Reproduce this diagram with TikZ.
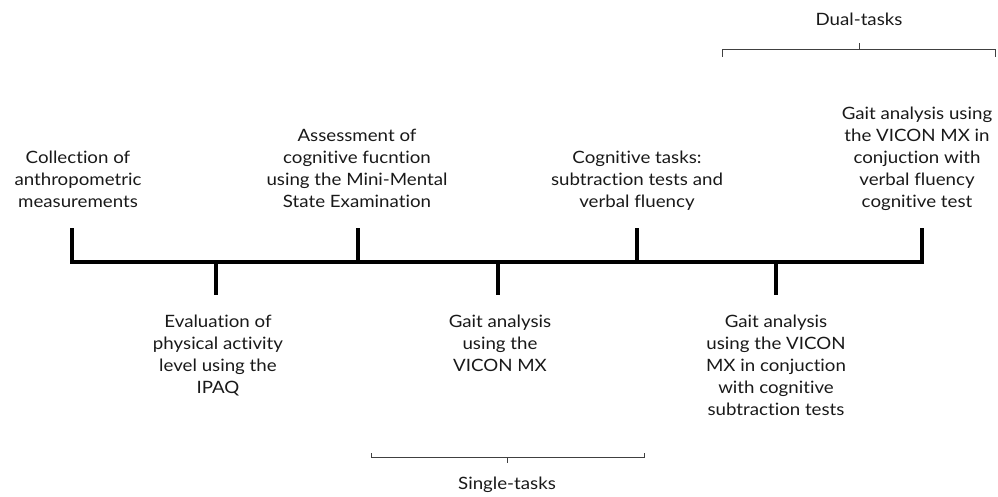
\documentclass[tikz,border=0pt]{standalone}
\usepackage{fontspec}
\setmainfont{Lato}[FakeStretch=1.1,Ligatures=NoCommon]
\usetikzlibrary{positioning,calc}
\tikzstyle{stage} = [align=center,inner sep=0pt,font=\fontsize{17}{22}\selectfont,text=black!90]
\tikzstyle{above stage} = [stage,anchor=south,text depth=4pt]
\tikzstyle{below stage} = [stage,anchor=north]
\tikzstyle{axis} = [line width=4pt,line join=miter]
\tikzstyle{brace} = [line width=1pt,black!75]

\begin{document}
\begin{tikzpicture}[x=1pt,y=-1pt]
        \useasboundingbox (0,0) rectangle (998,497);
        % timeline
        \coordinate (t1) at (72,262);
        \coordinate (t2) at (216,262);
        \coordinate (t3) at (358,262);
        \coordinate (t4) at (498,262);
        \coordinate (t5) at (637,262);
        \coordinate (t6) at (776,262);
        \coordinate (t7) at (922,262);
        \draw[axis] ($(t1)+(0,-34)$) -- (t1) -- (t7) -- ($(t7)+(0,-34)$);
        \foreach \t in {t3,t5} \draw[axis] (\t) -- ++(0,-34);
        \foreach \t in {t2,t4,t6} \draw[axis] (\t) -- ++(0,33);
        % stages above the line
        \node[above stage] (anthro) at (78,212) {Collection of\\anthropometric\\measurements};
        \node[above stage] (mmse) at (357,212) {Assessment of\\cognitive fucntion\\using the Mini-Mental\\State Examination};
        \node[above stage] (cogn) at (637,212) {Cognitive tasks:\\subtraction tests and\\verbal fluency};
        \node[above stage] (dualverb) at (917,212) {Gait analysis using\\the VICON MX in\\conjuction with\\verbal fluency\\cognitive test};
        % stages below the line
        \node[below stage] (ipaq) at (218,315) {Evaluation of\\physical activity\\level using the\\IPAQ};
        \node[below stage] (single) at (500,315) {Gait analysis\\using the\\VICON MX};
        \node[below stage] (dualsub) at (776,315) {Gait analysis\\using the VICON\\MX in conjuction\\with cognitive\\subtraction tests};
        % brackets
        \draw[brace] (371,453) -- (371,457) -- (644,457) -- (644,453);
        \draw[brace] (507,457) -- (507,463) coordinate (sgl);
        \node[stage,below=14pt of sgl] (sgllabel) {Single-tasks};
        \draw[brace] (722,57) -- (722,50) -- (995,50) -- (995,57);
        \draw[brace] (859,50) -- (859,43) coordinate (dul);
        \node[stage,above=17pt of dul] (dullabel) {Dual-tasks};
\end{tikzpicture}
\end{document}
